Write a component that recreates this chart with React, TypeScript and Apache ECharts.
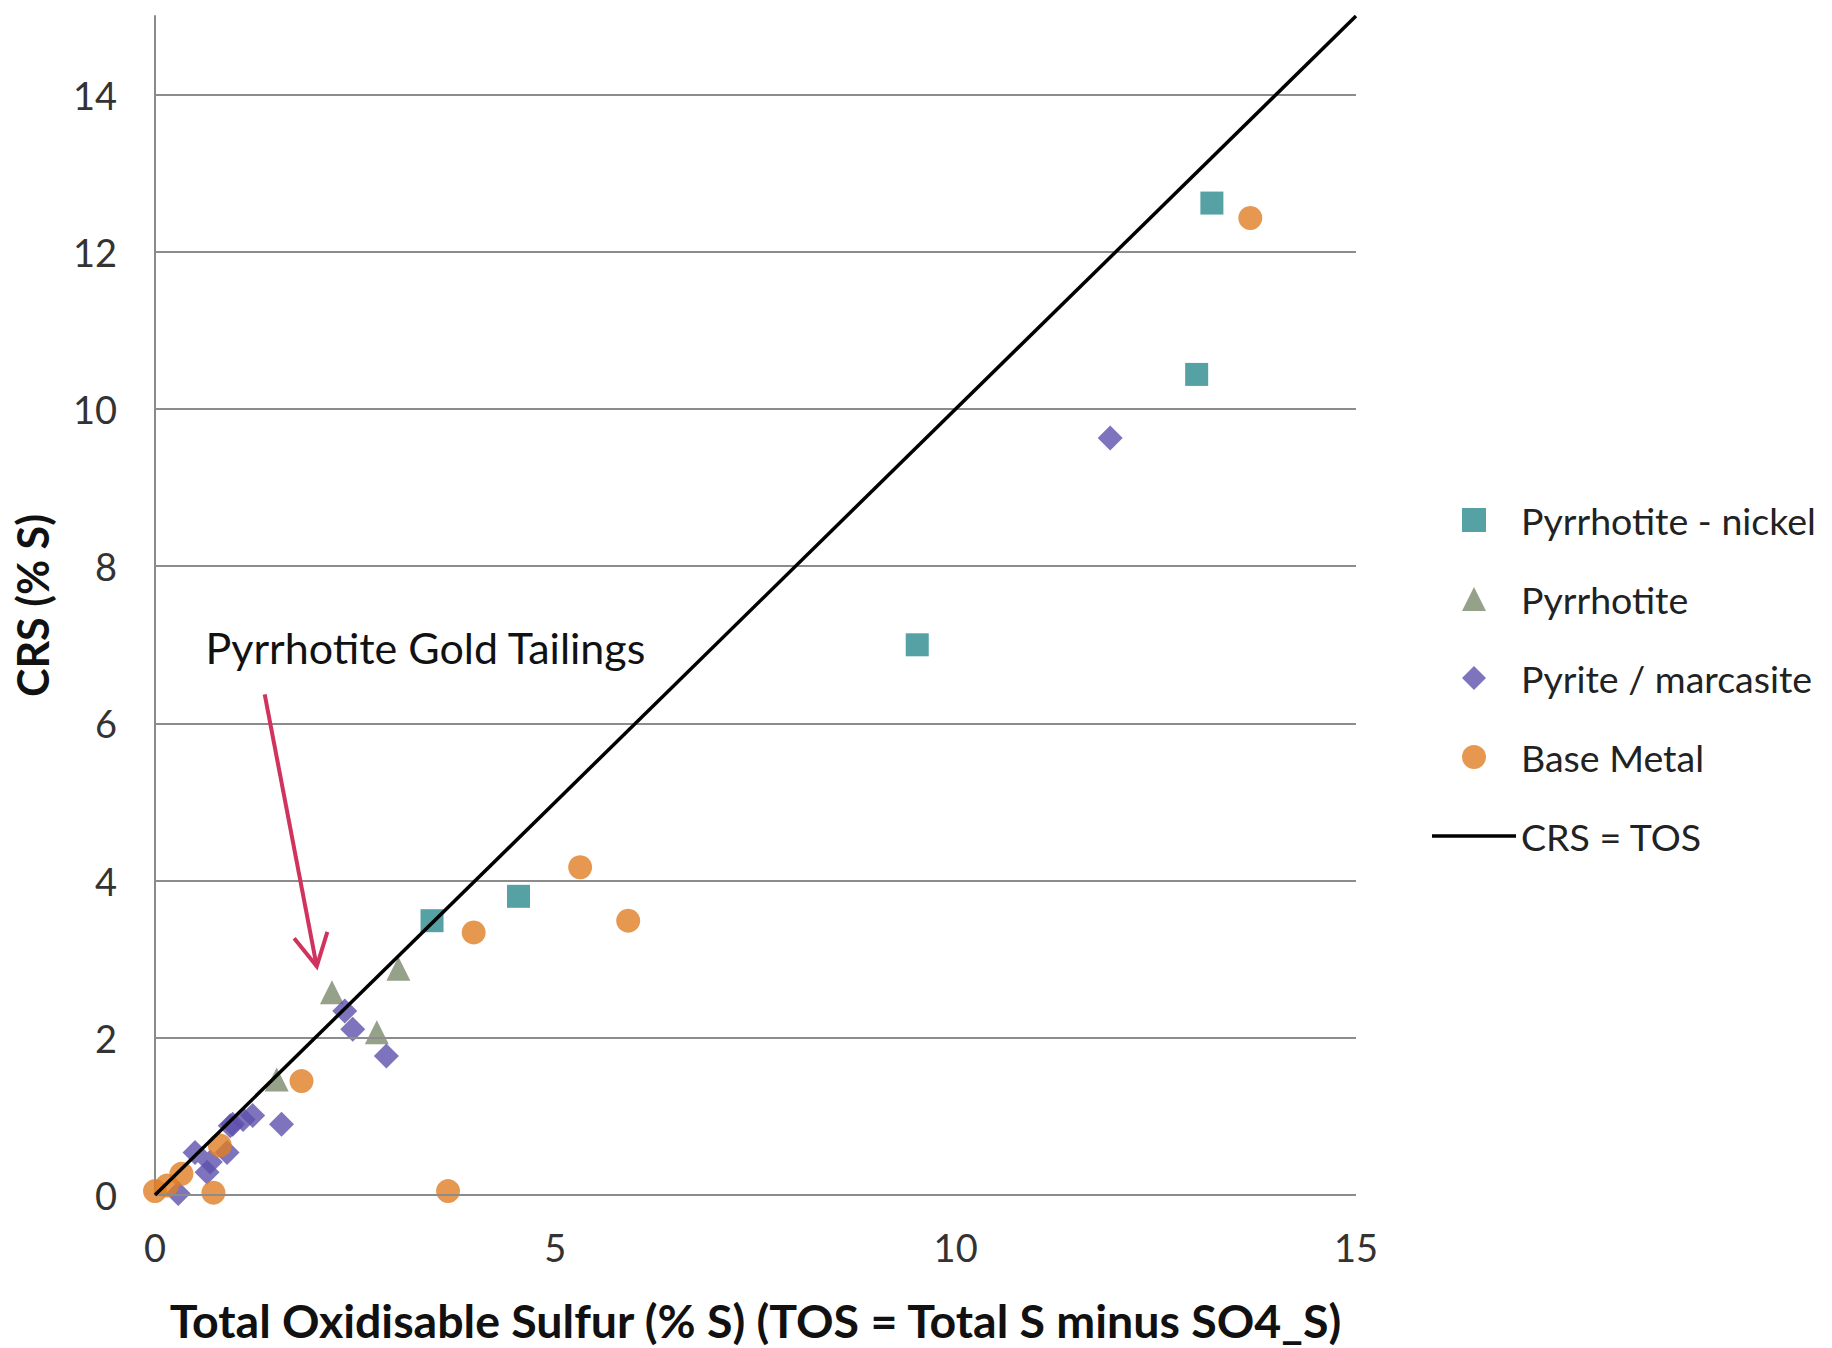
import React, { useEffect, useRef } from 'react';
import * as echarts from 'echarts';

const FONT = 'Lato, "Liberation Sans", sans-serif';

const xTicks = [0, 5, 10, 15];
const yTicks = [0, 2, 4, 6, 8, 10, 12, 14];

const pyrrhotiteNickel = [
  [3.46, 3.49], [4.54, 3.80], [9.52, 7.00], [13.01, 10.44], [13.20, 12.62],
];
const pyrrhotite = [
  [1.52, 1.47], [2.21, 2.58], [2.77, 2.07], [3.04, 2.88],
];
const pyrite = [
  [0.29, 0.02], [0.50, 0.54], [0.65, 0.29], [0.69, 0.42], [0.90, 0.54], [0.94, 0.88],
  [0.97, 0.90], [1.10, 0.96], [1.22, 1.01], [1.58, 0.90], [2.37, 2.34], [2.47, 2.11],
  [2.89, 1.77], [11.93, 9.63],
];
const baseMetal = [
  [0.0, 0.05], [0.15, 0.12], [0.33, 0.27], [0.73, 0.03], [0.81, 0.63], [1.83, 1.45],
  [3.66, 0.05], [3.98, 3.34], [5.31, 4.17], [5.91, 3.49], [13.68, 12.43],
];
const identityLine = [[0, 0], [15, 15]];

const seriesNames = ['Pyrrhotite - nickel', 'Pyrrhotite', 'Pyrite / marcasite', 'Base Metal', 'CRS = TOS'];
const annotationText = 'Pyrrhotite Gold Tailings';
const annotationAnchor = [0.63, 6.97];
const arrowStart = [1.37, 6.37];
const arrowEnd = [2.02, 2.91];

export default function App() {
  const ref = useRef<HTMLDivElement>(null);
  useEffect(() => {
    if (!ref.current) return;
    const chart = echarts.init(ref.current, null, { renderer: 'svg' });
    const option: any = {
      animation: false,
      backgroundColor: '#ffffff',
      textStyle: { fontFamily: FONT },
      grid: { left: 155, top: 16, width: 1201, height: 1180, containLabel: false },
      xAxis: {
        type: 'value', min: 0, max: 15, interval: 5,
        axisLine: { show: false }, axisTick: { show: false }, splitLine: { show: false },
        axisLabel: {
          fontSize: 38, color: '#333', margin: 33, fontFamily: FONT,
          formatter: (v: number) => (xTicks.includes(v) ? String(v) : ''),
        },
        name: 'Total Oxidisable Sulfur (% S) (TOS = Total S minus SO4_S)',
        nameLocation: 'middle', nameGap: 101,
        nameTextStyle: { fontSize: 46.5, fontWeight: 'bold', color: '#111', fontFamily: FONT },
      },
      yAxis: {
        type: 'value', min: 0, max: 15, interval: 2,
        axisLine: { show: true, lineStyle: { color: '#8a8a8a', width: 2 } },
        axisTick: { show: false }, splitLine: { show: false },
        axisLabel: {
          fontSize: 38, color: '#333', margin: 38, fontFamily: FONT, showMaxLabel: false,
          formatter: (v: number) => (yTicks.includes(v) ? String(v) : ''),
        },
        name: 'CRS (% S)', nameLocation: 'middle', nameGap: 101, nameRotate: 90,
        nameTextStyle: { fontSize: 43, fontWeight: 'bold', color: '#111', fontFamily: FONT },
      },
      legend: {
        orient: 'vertical', left: 1427, top: 496, itemWidth: 84, itemHeight: 24, itemGap: 41,
        symbolKeepAspect: true,
        textStyle: { fontSize: 37.5, color: '#222', fontFamily: FONT },
        data: [
          { name: seriesNames[0], icon: 'path://M0,0L10,0L10,10L0,10Z' },
          { name: seriesNames[1], icon: 'path://M5,0L10,10L0,10Z' },
          { name: seriesNames[2], icon: 'path://M5,0L10,5L5,10L0,5Z' },
          { name: seriesNames[3], icon: 'path://M5,0A5,5 0 1,1 5,10A5,5 0 1,1 5,0Z' },
          { name: seriesNames[4], icon: 'path://M0,0L84,0L84,3.5L0,3.5Z' },
        ],
      },
      series: [
        {
          name: '__grid', type: 'line', data: [], z: 1, silent: true,
          markLine: {
            silent: true, symbol: ['none', 'none'], label: { show: false },
            lineStyle: { color: '#8c8c8c', width: 2, type: 'solid' },
            data: yTicks.map((v) => ({ yAxis: v })),
          },
        },
        { name: seriesNames[0], type: 'scatter', symbol: 'rect', symbolSize: 23, data: pyrrhotiteNickel, itemStyle: { color: '#2a8a8c' }, z: 3 },
        { name: seriesNames[1], type: 'scatter', symbol: 'triangle', symbolSize: 24, data: pyrrhotite, itemStyle: { color: '#7b8a6c' }, z: 3 },
        { name: seriesNames[2], type: 'scatter', symbol: 'diamond', symbolSize: 25, data: pyrite, itemStyle: { color: '#5e50ac' }, z: 3 },
        { name: seriesNames[3], type: 'scatter', symbol: 'circle', symbolSize: 24, data: baseMetal, itemStyle: { color: '#e07e24' }, z: 3 },
        {
          name: seriesNames[4], type: 'line', data: identityLine, symbol: 'none', showSymbol: false,
          lineStyle: { color: '#000', width: 3.5 }, itemStyle: { color: '#000' }, z: 5,
        },
      ],
    };
    chart.setOption(option);

    const toPx = (p: number[]) => chart.convertToPixel({ xAxisIndex: 0, yAxisIndex: 0 }, p) as number[];
    const tp = toPx(annotationAnchor);
    const a0 = toPx(arrowStart);
    const a1 = toPx(arrowEnd);
    const dx = a0[0] - a1[0];
    const dy = a0[1] - a1[1];
    const len = Math.hypot(dx, dy);
    const ux = dx / len, uy = dy / len;
    const headLen = 36, ang = (28 * Math.PI) / 180;
    const rot = (x: number, y: number, t: number) => [x * Math.cos(t) - y * Math.sin(t), x * Math.sin(t) + y * Math.cos(t)];
    const w1 = rot(ux, uy, ang);
    const w2 = rot(ux, uy, -ang);
    const arrowColor = '#d0345e';
    chart.setOption({
      graphic: [
        {
          type: 'text', x: tp[0], y: tp[1], z: 10,
          style: {
            text: annotationText, fontSize: 43, fontFamily: FONT, fill: '#111',
            align: 'left', verticalAlign: 'middle', textAlign: 'left', textVerticalAlign: 'middle',
          },
        },
        {
          type: 'line', z: 10,
          shape: { x1: a0[0], y1: a0[1], x2: a1[0], y2: a1[1] },
          style: { stroke: arrowColor, lineWidth: 4 },
        },
        {
          type: 'polyline', z: 10,
          shape: {
            points: [
              [a1[0] + w1[0] * headLen, a1[1] + w1[1] * headLen],
              [a1[0], a1[1]],
              [a1[0] + w2[0] * headLen, a1[1] + w2[1] * headLen],
            ],
          },
          style: { stroke: arrowColor, lineWidth: 4, fill: 'none' },
        },
      ],
    });
    return () => chart.dispose();
  }, []);
  return <div ref={ref} style={{ position: 'fixed', left: 0, top: 0, width: 1832, height: 1348 }} />;
}
